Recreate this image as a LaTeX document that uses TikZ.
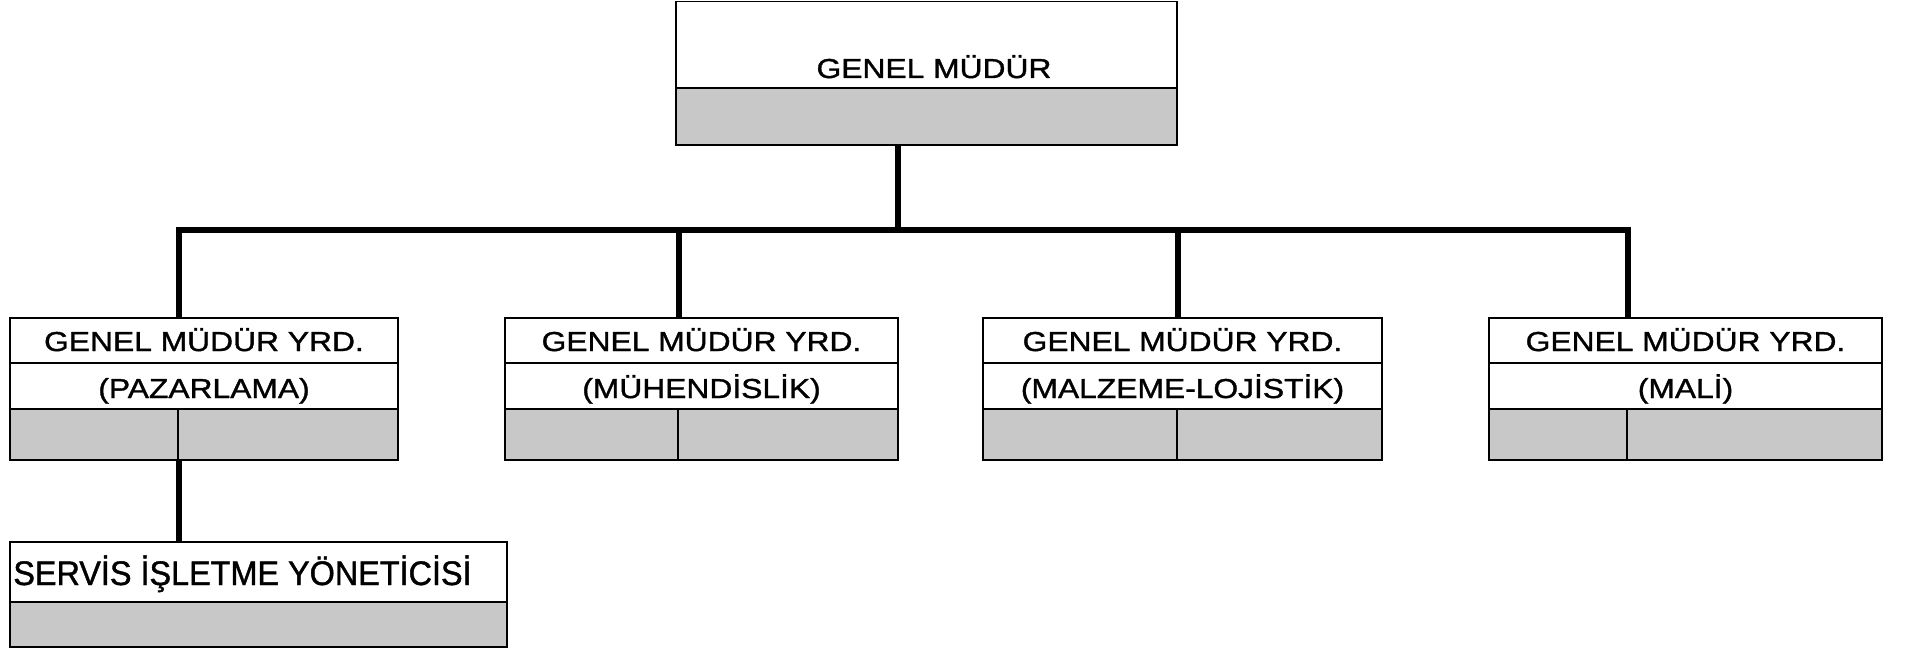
\documentclass[tikz,border=0pt]{standalone}
\usepackage{fontspec}
\usetikzlibrary{fit}
\newfontfamily\kutufont{Liberation Sans}[FakeStretch=1.16, FakeBold=1.2]
\newfontfamily\servisfont{Liberation Sans}[FakeStretch=0.95, FakeBold=1.2]
\definecolor{noktagri}{RGB}{200,200,200}
\tikzset{
  %% Plain box edge: thin black hairline
  kutu/.style={draw=black, line width=1.1pt, inner sep=0pt},
  %% Stippled lower strip of each box (flat grey here)
  golge/.style={kutu, fill=noktagri},
  %% Heavy connector lines
  baglanti/.style={draw=black, line width=3.2pt, line join=miter},
  yazi/.style={font=\kutufont\fontsize{15.6pt}{18pt}\selectfont, inner sep=0pt},
  buyukyazi/.style={font=\servisfont\fontsize{19.4pt}{23pt}\selectfont, inner sep=0pt},
}
\begin{document}
\begin{tikzpicture}[x=0.02cm, y=-0.02cm]
  \useasboundingbox (0,0) rectangle (1905,648);

  %% ── Layout constants (pixels of the original sheet) ──────────────────
  \def\UY{318}   % top of assistant boxes
  \def\UA{363}   % first divider
  \def\UB{409}   % second divider
  \def\UC{460}   % bottom of assistant boxes
  \def\BY{230}   % bus level

  %% ══════════════════════════════════════════════════════════════════════
  %%  GENEL MÜDÜR
  %% ══════════════════════════════════════════════════════════════════════
  \node[kutu,  fit={(676,1.5) (1177,88)}] (gm)  {};
  \node[golge, fit={(676,88) (1177,145)}] (gmg) {};
  \node[yazi, anchor=base] (gmyazi) at (934,78) {GENEL MÜDÜR};

  %% ── Assistant box macro ───────────────────────────────────────────────
  \newcommand{\yrdkutu}[5]{%
    \node[kutu,  fit={(#2,\UY) (#3,\UA)}] (#1)    {};
    \node[kutu,  fit={(#2,\UA) (#3,\UB)}] (#1alt) {};
    \node[golge, fit={(#2,\UB) (#4,\UC)}] (#1sol) {};
    \node[golge, fit={(#4,\UB) (#3,\UC)}] (#1sag) {};
    \node[yazi, anchor=base] (#1yazi)  at ({(#2+#3)/2},351) {GENEL MÜDÜR YRD.};
    \node[yazi, anchor=base] (#1birim) at ({(#2+#3)/2},398) {#5};
  }

  %% four assistants
  \yrdkutu{pz}{10}{398}{178}{(PAZARLAMA)}
  \yrdkutu{mh}{505}{898}{678}{(MÜHENDİSLİK)}
  \yrdkutu{ml}{983}{1382}{1177}{(MALZEME-LOJİSTİK)}
  \yrdkutu{mali}{1489}{1882}{1627}{(MALİ)}

  %% ── Service manager under marketing ──────────────────────────────────
  \node[kutu,  fit={(10,542) (507,602)}] (sy)  {};
  \node[golge, fit={(10,602) (507,647)}] (syg) {};
  \node[buyukyazi, anchor=base west] (syyazi) at (13,585) {SERVİS İŞLETME YÖNETİCİSİ};

  %% ══════════════════════════════════════════════════════════════════════
  %%  CONNECTORS
  %% ══════════════════════════════════════════════════════════════════════
  \coordinate (bus) at (898,\BY);
  \draw[baglanti] (gmg.south -| bus) -- (bus);
  \draw[baglanti] (pz.north -| pzsol.east) |- (bus -| malisol.east)
                  -- (mali.north -| malisol.east);
  \draw[baglanti] (bus -| mhsol.east) -- (mh.north -| mhsol.east);
  \draw[baglanti] (bus -| mlsol.east) -- (ml.north -| mlsol.east);
  \draw[baglanti] (pzsol.south east) -- (sy.north -| pzsol.east);

\end{tikzpicture}
\end{document}
